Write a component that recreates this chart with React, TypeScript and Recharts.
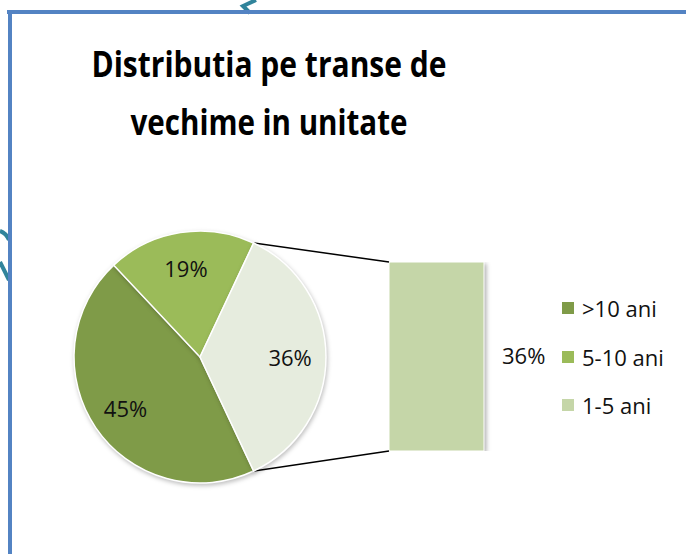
import React from 'react';
import { PieChart, Pie, Cell, BarChart, Bar, XAxis, YAxis, LabelList } from 'recharts';

// ---- data ----
const categories = ['>10 ani', '5-10 ani', '1-5 ani'];
const values = [45, 19, 36];
const pieColors = ['#7f9b48', '#9bbb59', '#e6ecde'];
const legendColors = ['#7f9b48', '#9bbb59', '#c5d6a8'];
const secondCategory = '1-5 ani';
const secondValue = 36;
const titleLines = ['Distributia pe transe de', 'vechime in unitate'];

const pieData = categories.map((name, i) => ({ name, value: values[i] }));
const barData = [{ name: secondCategory, value: secondValue }];

// ---- layout ----
const W = 686;
const H = 554;
const PIE = { cx: 200, cy: 357, r: 126 };
const BAR_BOX = { x: 389, y: 262, w: 95, h: 189 };
const BAR_LABEL_SPACE = 80;
const RAD = Math.PI / 180;
const FONT = '"Open Sans", "Noto Sans", sans-serif';

const total = values.reduce((a, b) => a + b, 0);
const halfSplit = ((secondValue / total) * 360) / 2;
const startAngle = 360 - halfSplit;
const endAngle = -halfSplit;

const renderPieLabel = (props: any) => {
  const { cx, cy, midAngle, outerRadius, value } = props;
  const r = outerRadius * 0.715;
  const x = cx + r * Math.cos(-midAngle * RAD);
  const y = cy + r * Math.sin(-midAngle * RAD);
  return (
    <text x={x} y={y} textAnchor="middle" dominantBaseline="central" fontFamily={FONT} fontSize={22} fill="#111">
      {value}%
    </text>
  );
};

export default function App() {
  const topPt = {
    x: PIE.cx + PIE.r * Math.cos(halfSplit * RAD),
    y: PIE.cy - PIE.r * Math.sin(halfSplit * RAD),
  };
  const botPt = {
    x: PIE.cx + PIE.r * Math.cos(halfSplit * RAD),
    y: PIE.cy + PIE.r * Math.sin(halfSplit * RAD),
  };
  return (
    <div style={{ position: 'absolute', left: 0, top: 0, width: W, height: H, background: '#fff', overflow: 'hidden' }}>
      <style>{`
        .pie-wrap .recharts-pie-sector { filter: drop-shadow(1px 2px 2px rgba(0,0,0,0.25)); }
        .bar-wrap .recharts-bar-rectangle { filter: drop-shadow(2px 2px 2px rgba(0,0,0,0.3)); }
      `}</style>

      {/* frame & decorations */}
      <svg width={W} height={H} style={{ position: 'absolute', left: 0, top: 0 }}>
        <path d="M256 0 L243 6 L250 13" stroke="#31849b" strokeWidth={4} fill="none" />
        <path d="M0 231 Q6 233 9 240" stroke="#31849b" strokeWidth={4} fill="none" />
        <path d="M0 262 L9 280" stroke="#31849b" strokeWidth={4} fill="none" />
        <line x1={7} y1={12} x2={W} y2={12} stroke="#5383c3" strokeWidth={4} />
        <line x1={10} y1={10} x2={10} y2={H} stroke="#5383c3" strokeWidth={4} />
        <text x={269} y={77} textAnchor="middle" fontFamily={FONT} fontWeight={700} fontSize={35} fill="#000" textLength={355} lengthAdjust="spacingAndGlyphs">
          {titleLines[0]}
        </text>
        <text x={269} y={135} textAnchor="middle" fontFamily={FONT} fontWeight={700} fontSize={35} fill="#000" textLength={277} lengthAdjust="spacingAndGlyphs">
          {titleLines[1]}
        </text>
        <line x1={topPt.x} y1={topPt.y} x2={BAR_BOX.x} y2={BAR_BOX.y} stroke="#000" strokeWidth={1.5} />
        <line x1={botPt.x} y1={botPt.y} x2={BAR_BOX.x} y2={BAR_BOX.y + BAR_BOX.h} stroke="#000" strokeWidth={1.5} />
      </svg>

      <div className="pie-wrap" style={{ position: 'absolute', left: 0, top: 0 }}>
        <PieChart width={W} height={H} margin={{ top: 0, right: 0, bottom: 0, left: 0 }}>
          <Pie
            data={pieData}
            dataKey="value"
            nameKey="name"
            cx={PIE.cx}
            cy={PIE.cy}
            outerRadius={PIE.r}
            startAngle={startAngle}
            endAngle={endAngle}
            stroke="#fff"
            strokeWidth={1.5}
            label={renderPieLabel}
            labelLine={false}
            isAnimationActive={false}
          >
            {pieData.map((d, i) => (
              <Cell key={d.name} fill={pieColors[i]} />
            ))}
          </Pie>
        </PieChart>
      </div>

      <div className="bar-wrap" style={{ position: 'absolute', left: BAR_BOX.x, top: BAR_BOX.y }}>
        <BarChart
          width={BAR_BOX.w + BAR_LABEL_SPACE}
          height={BAR_BOX.h}
          data={barData}
          margin={{ top: 0, right: BAR_LABEL_SPACE, bottom: 0, left: 0 }}
          barCategoryGap={0}
        >
          <XAxis dataKey="name" hide />
          <YAxis hide domain={[0, secondValue]} />
          <Bar dataKey="value" fill={legendColors[2]} stroke="#fff" strokeWidth={1} isAnimationActive={false}>
            <LabelList
              dataKey="value"
              position="right"
              offset={18}
              formatter={(v: any) => `${v}%`}
              style={{ fontFamily: FONT, fontSize: 22, fill: '#111' }}
            />
          </Bar>
        </BarChart>
      </div>

      {/* legend */}
      <div style={{ position: 'absolute', left: 562, top: 284, fontFamily: FONT, fontSize: 22, color: '#111' }}>
        {categories.map((c, i) => (
          <div key={c} style={{ display: 'flex', alignItems: 'center', height: 48.5 }}>
            <span style={{ display: 'inline-block', width: 12, height: 12, background: legendColors[i], marginRight: 8 }} />
            <span style={{ lineHeight: '22px' }}>{c}</span>
          </div>
        ))}
      </div>
    </div>
  );
}
